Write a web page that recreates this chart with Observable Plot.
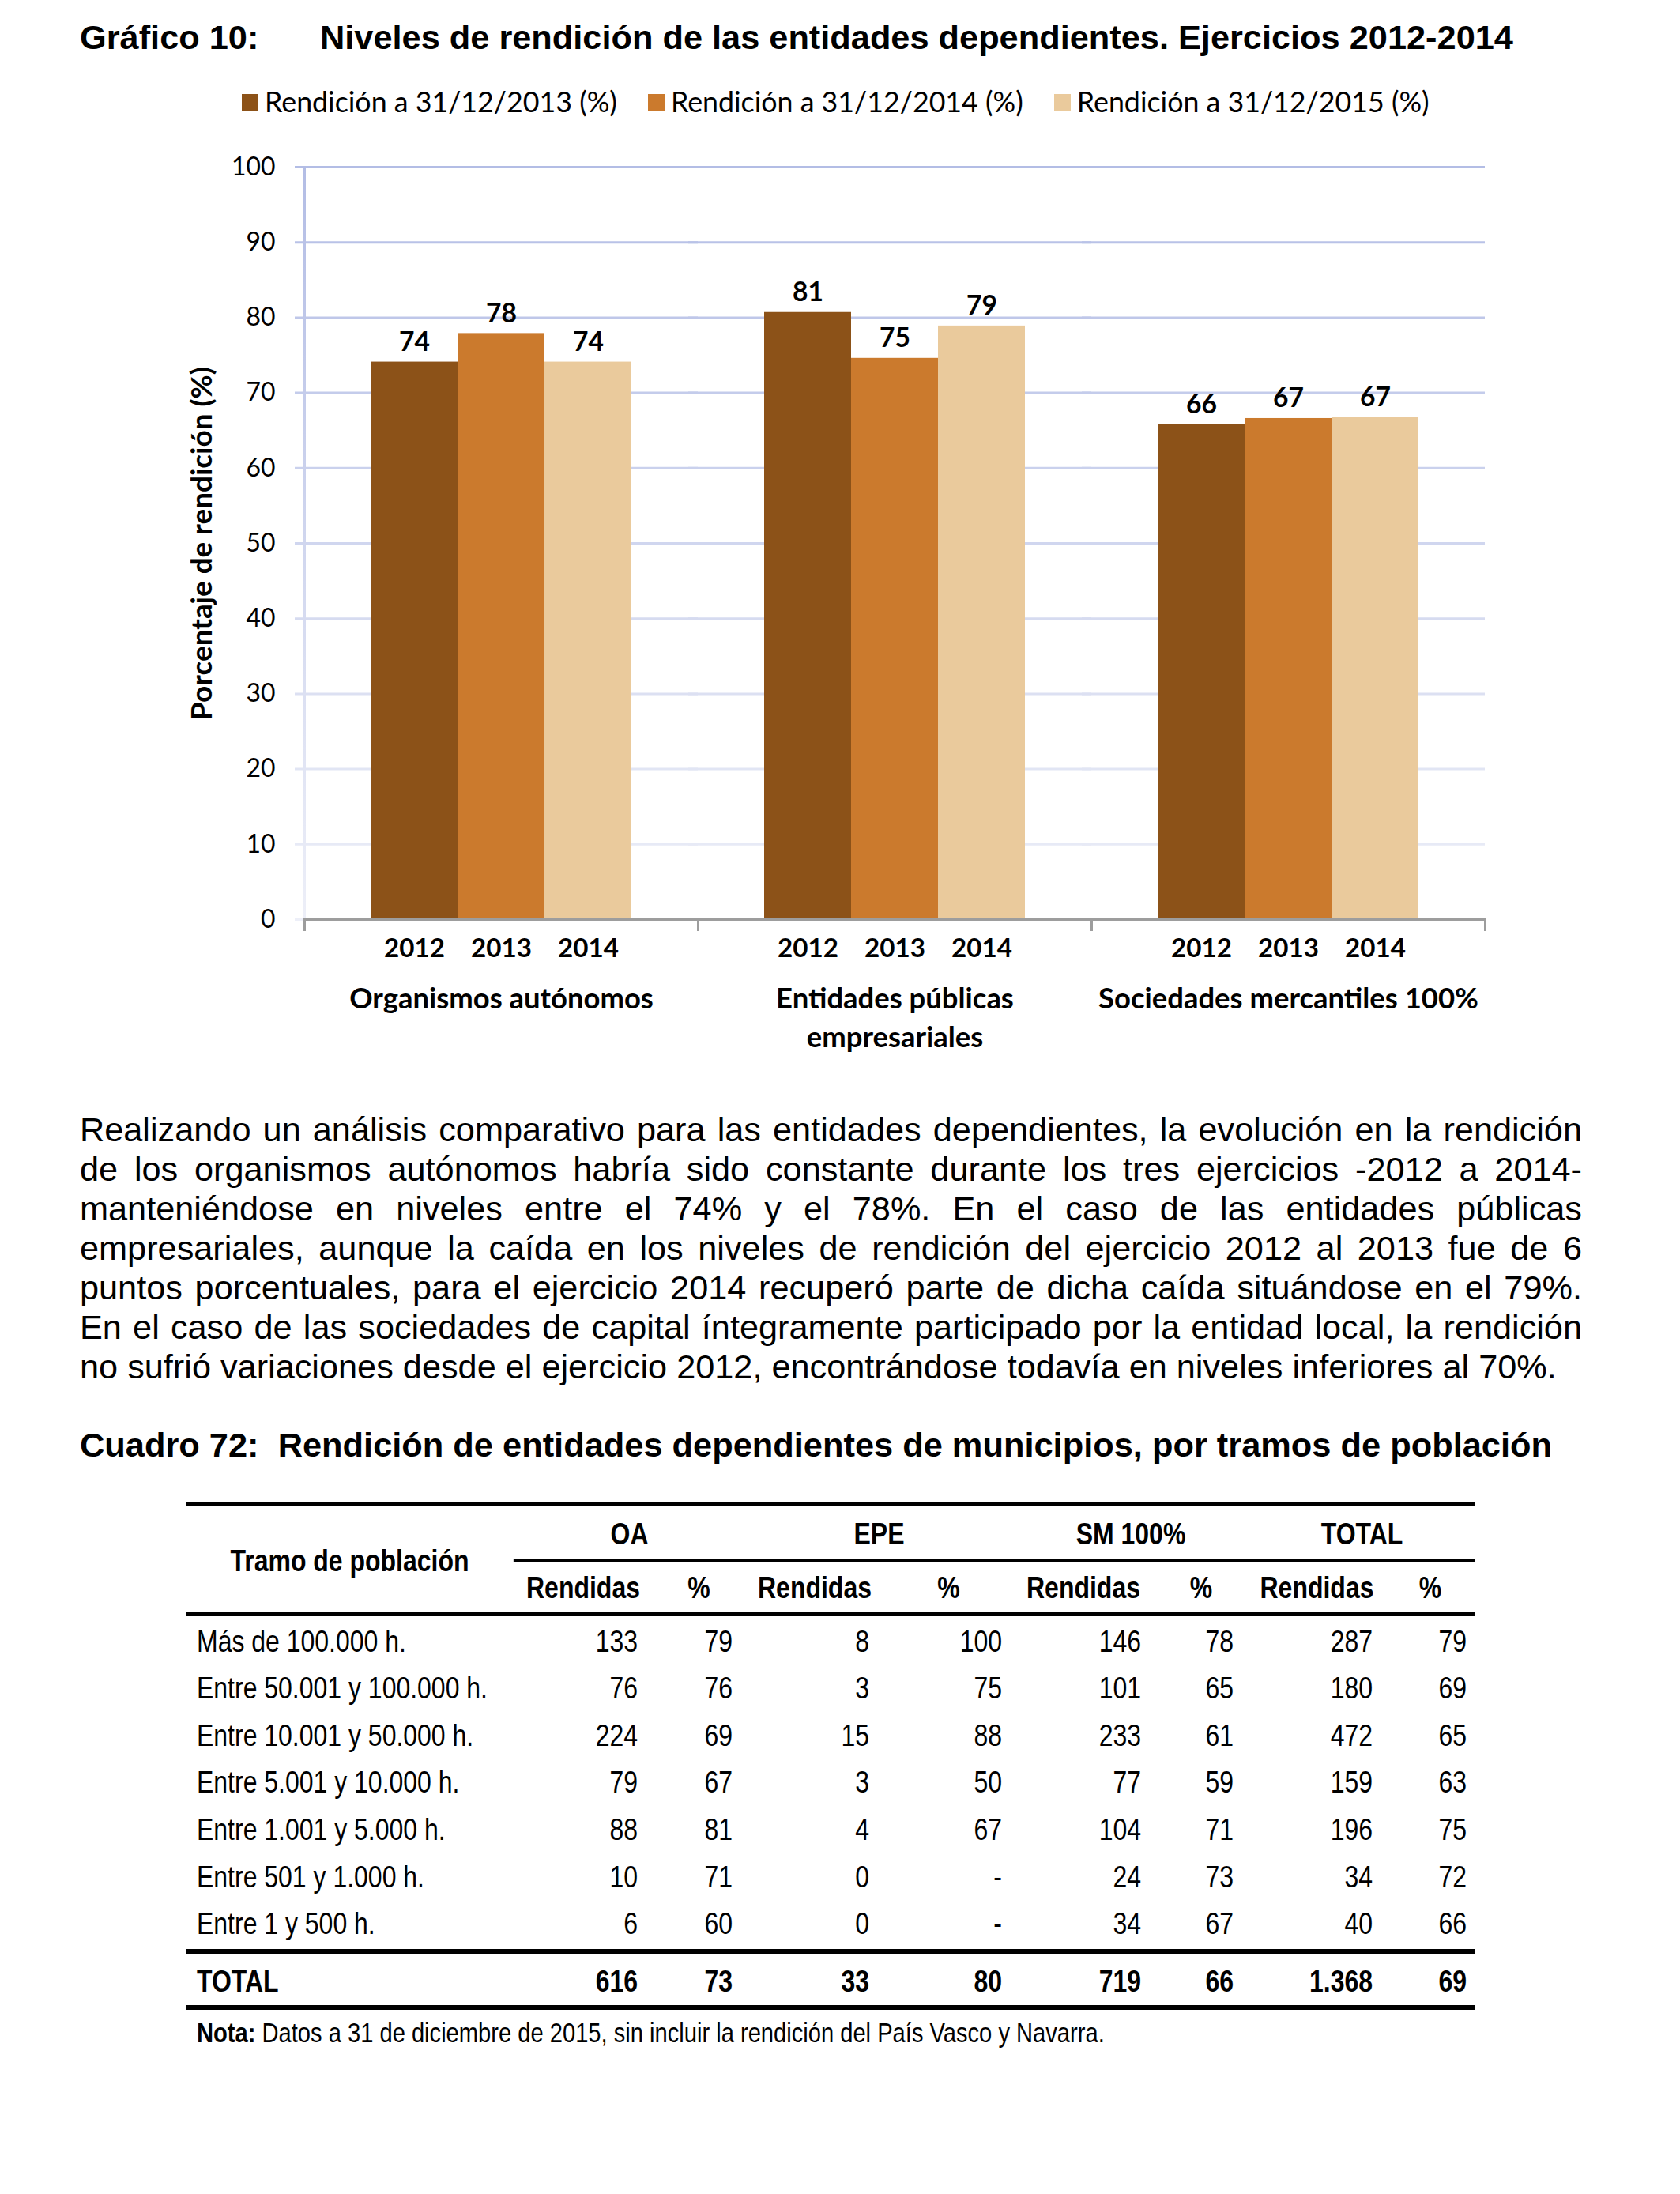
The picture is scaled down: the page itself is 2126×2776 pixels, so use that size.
<!DOCTYPE html>
<html><head><meta charset="utf-8">
<script src="https://cdn.jsdelivr.net/npm/d3@7"></script>
<script src="https://cdn.jsdelivr.net/npm/@observablehq/plot@0.6"></script>
<style>
html,body{margin:0;padding:0;background:#fff;}
body{width:2126px;height:2776px;position:relative;overflow:hidden;color:#000;}
.abs{position:absolute;white-space:pre;}
</style></head><body>
<svg width="0" height="0" style="position:absolute">
<defs><linearGradient id="axisGrad" gradientUnits="userSpaceOnUse" x1="0" y1="51" x2="0" y2="1003">
<stop offset="0" stop-color="#B3BDE5"/><stop offset="1" stop-color="#EDEFF8"/></linearGradient></defs></svg>
<script>
// ---------- DATA ----------
const categories = ["Organismos autónomos", "Entidades públicas\nempresariales", "Sociedades mercantiles 100%"];
const years = ["2012", "2013", "2014"];
const seriesLabels = ["Rendición a 31/12/2013 (%)", "Rendición a 31/12/2014 (%)", "Rendición a 31/12/2015 (%)"];
const oaValues = [74.1, 77.9, 74.1];
const epeValues = [80.7, 74.6, 78.9];
const smValues = [65.8, 66.6, 66.7];
const yTicks = [0, 10, 20, 30, 40, 50, 60, 70, 80, 90, 100];
const barColors = ["#8C5218", "#CB7A2D", "#EACA9C"];

const tramos = ["Más de 100.000 h.", "Entre 50.001 y 100.000 h.", "Entre 10.001 y 50.000 h.", "Entre 5.001 y 10.000 h.", "Entre 1.001 y 5.000 h.", "Entre 501 y 1.000 h.", "Entre 1 y 500 h."];
const oaRendidas = [133, 76, 224, 79, 88, 10, 6];
const oaPct = [79, 76, 69, 67, 81, 71, 60];
const epeRendidas = [8, 3, 15, 3, 4, 0, 0];
const epePct = [100, 75, 88, 50, 67, "-", "-"];
const smRendidas = [146, 101, 233, 77, 104, 24, 34];
const smPct = [78, 65, 61, 59, 71, 73, 67];
const totalRendidas = [287, 180, 472, 159, 196, 34, 40];
const totalPct = [79, 69, 65, 63, 75, 72, 66];
const totalRow = ["TOTAL", 616, 73, 33, 80, 719, 66, "1.368", 69];
const groupHeaders = ["OA", "EPE", "SM 100%", "TOTAL"];
const subHeaders = ["Rendidas", "%"];

const titleLabel = "Gráfico 10:";
const titleText = "Niveles de rendición de las entidades dependientes. Ejercicios 2012-2014";
const yLabel = "Porcentaje de rendición (%)";
const cuadroTitle = "Cuadro 72:  Rendición de entidades dependientes de municipios, por tramos de población";
const tableHeadLabel = "Tramo de población";
const notaBold = "Nota:";
const notaText = " Datos a 31 de diciembre de 2015, sin incluir la rendición del País Vasco y Navarra.";
const paragraphLines = [
  "Realizando un análisis comparativo para las entidades dependientes, la evolución en la rendición",
  "de los organismos autónomos habría sido constante durante los tres ejercicios -2012 a 2014-",
  "manteniéndose en niveles entre el 74% y el 78%. En el caso de las entidades públicas",
  "empresariales, aunque la caída en los niveles de rendición del ejercicio 2012 al 2013 fue de 6",
  "puntos porcentuales, para el ejercicio 2014 recuperó parte de dicha caída situándose en el 79%.",
  "En el caso de las sociedades de capital íntegramente participado por la entidad local, la rendición",
  "no sufrió variaciones desde el ejercicio 2012, encontrándose todavía en niveles inferiores al 70%."
];

// ---------- HELPERS ----------
const FONT = "Lato";
const ARIAL = '"Liberation Sans"';
const ctx = document.createElement("canvas").getContext("2d");
const tw = (t, f) => { ctx.font = f; return ctx.measureText(t).width; };
const fit = (t, w, fam, target) => 100 * target / tw(t, `${w} 100px ${fam}`);
function div(html, css) { const d = document.createElement("div"); d.className = "abs"; d.style.cssText = css; d.innerHTML = html; document.body.appendChild(d); return d; }
const esc = s => s.replace(/&/g, "&amp;").replace(/</g, "&lt;");

// ---------- TITLE ----------
const titleSize = fit(titleText, "bold", ARIAL, 1510);
div(esc(titleLabel), `left:101px;top:${53 - 30}px;height:60px;line-height:60px;font:bold ${titleSize}px ${ARIAL};`);
div(esc(titleText), `left:405px;top:${53 - 30}px;height:60px;line-height:60px;font:bold ${titleSize}px ${ARIAL};`);

// ---------- LEGEND ----------
const legSize = fit(seriesLabels[0], "normal", FONT, 446);
const leg = div("", `left:306px;top:104px;height:50px;display:flex;align-items:center;gap:39px;font:normal ${legSize}px ${FONT};`);
seriesLabels.forEach((l, i) => {
  const it = document.createElement("div");
  it.style.cssText = "display:flex;align-items:center;gap:8px;";
  it.innerHTML = `<span style="display:inline-block;width:21px;height:21px;background:${barColors[i]}"></span><span style="line-height:50px">${esc(l)}</span>`;
  leg.appendChild(it);
});

// ---------- CHART ----------
const rows = [];
const valuesByCat = [oaValues, epeValues, smValues];
categories.forEach((c, i) => years.forEach((y, j) => rows.push({cat: c, year: y, value: valuesByCat[i][j]})));
const gridColor = d3.interpolateRgb("#EDEFF8", "#B3BDE5");
const valSize = fit("74", "bold", FONT, 39);
const yearSize = fit("2012", "bold", FONT, 77);
const tickFont = fit("70", "normal", FONT, 37);
const catSize = fit("Sociedades mercantiles 100%", "bold", FONT, 481);
const ylabSize = fit(yLabel, "bold", FONT, 447);
const grayAxis = "#9D9D9D";

const chart = Plot.plot({
  width: 2126, height: 1180,
  marginLeft: 384, marginRight: 246, marginTop: 51, marginBottom: 177,
  style: {fontFamily: FONT, background: "transparent", overflow: "visible", color: "#000"},
  fx: {domain: categories, padding: 0, axis: null},
  x: {domain: years, paddingInner: 0, paddingOuter: 0.747, axis: null},
  y: {domain: [0, 100], axis: null},
  color: {domain: years, range: barColors},
  marks: [
    Plot.ruleY(yTicks, {y: d => d, stroke: d => gridColor(d / 100), strokeWidth: 3, insetLeft: -12}),
    Plot.frame({anchor: "left", facet: "super", stroke: "url(#axisGrad)", strokeWidth: 3}),
    Plot.barY(rows, {fx: "cat", x: "year", y: "value", fill: "year", inset: 0}),
    Plot.ruleY([0], {stroke: grayAxis, strokeWidth: 3}),
    Plot.frame({anchor: "left", stroke: grayAxis, strokeWidth: 3, insetTop: 952, insetBottom: -13}),
    Plot.frame({anchor: "right", facet: "super", stroke: grayAxis, strokeWidth: 3, insetTop: 952, insetBottom: -13}),
    Plot.axisY({ticks: yTicks, tickSize: 0, tickPadding: 37, label: null, fontSize: tickFont}),
    Plot.text([yLabel], {frameAnchor: "left", facet: "super", rotate: -90, dx: -129, textAnchor: "middle", lineAnchor: "middle", fontWeight: "bold", fontSize: ylabSize, fill: "#000"}),
    Plot.text(rows, {fx: "cat", x: "year", y: "value", text: d => d3.format(".0f")(d.value), dy: -25, lineAnchor: "middle", fontWeight: "bold", fontSize: valSize, fill: "#000"}),
    Plot.text(rows, {fx: "cat", x: "year", text: "year", frameAnchor: "bottom", dy: 37, lineAnchor: "middle", fontWeight: "bold", fontSize: yearSize, fill: "#000"}),
    Plot.text(categories, {fx: d => d, text: d => d, frameAnchor: "bottom", lineAnchor: "top", dy: 78, fontWeight: "bold", fontSize: catSize, lineHeight: 49 / catSize, fill: "#000"})
  ]
});
chart.style.position = "absolute";
chart.style.left = "0px";
chart.style.top = "160px";
document.body.appendChild(chart);

// ---------- PARAGRAPH ----------
const paraSize = fit(paragraphLines[6], "normal", ARIAL, 1869);
paragraphLines.forEach((l, i) => {
  const last = i === paragraphLines.length - 1;
  div(esc(l), `left:101px;width:1901px;top:${1405 + i * 50}px;height:50px;line-height:50px;white-space:normal;text-align:${last ? "left" : "justify"};text-align-last:${last ? "left" : "justify"};font:normal ${paraSize}px ${ARIAL};`);
});

// ---------- CUADRO TITLE ----------
const cuadroSize = fit(cuadroTitle, "bold", ARIAL, 1864);
div(esc(cuadroTitle), `left:101px;top:${1834 - 30}px;height:60px;line-height:60px;font:bold ${cuadroSize}px ${ARIAL};`);

// ---------- TABLE ----------
function hasFont(f) { const a = tw("Rendidas 0123 h.", `40px "${f}", monospace`); const b = tw("Rendidas 0123 h.", `40px monospace`); return Math.abs(a - b) > 0.5; }
const TFONT = hasFont("Liberation Sans Narrow") ? '"Liberation Sans Narrow"' : ARIAL;
const TSIZE = 38;
const s = 368 / tw("Entre 50.001 y 100.000 h.", `${TSIZE}px ${TFONT}`);
const T0 = 235, T1 = 1867;
const T = document.createElement("div");
T.style.cssText = `position:absolute;left:${T0}px;top:0;width:${(T1 - T0) / s}px;height:2776px;transform:scaleX(${s});transform-origin:0 0;font-family:${TFONT};font-size:${TSIZE}px;`;
document.body.appendChild(T);
const X = x => (x - T0) / s;
const colEdges = [235, 650, 826, 943, 1119, 1282, 1460, 1580, 1753, 1867];
const numRight = [807, 927, 1100, 1268, 1444, 1561, 1737, 1856];
function cell(text, y, opt) {
  const d = document.createElement("div");
  const H = 56;
  let pos;
  if (opt.left != null) pos = `left:${X(opt.left)}px;`;
  else if (opt.right != null) pos = `right:${(T1 - T0) / s - X(opt.right)}px;`;
  else pos = `left:${X(opt.center)}px;transform:translateX(-50%);`;
  d.style.cssText = `position:absolute;white-space:pre;${pos}top:${y - H / 2}px;height:${H}px;line-height:${H}px;font-weight:${opt.bold ? "bold" : "normal"};${opt.size ? `font-size:${opt.size}px;` : ""}`;
  d.innerHTML = opt.html ? text : esc(String(text));
  T.appendChild(d);
}
function hline(y, h, x0 = T0, x1 = T1) {
  const d = document.createElement("div");
  d.style.cssText = `position:absolute;left:${X(x0)}px;width:${(x1 - x0) / s}px;top:${y - h / 2}px;height:${h}px;background:#000;`;
  T.appendChild(d);
}
hline(1903, 6);
hline(1974, 3, 650, T1);
hline(2042, 6);
hline(2469, 6);
hline(2540, 6);
cell(tableHeadLabel, 1975, {center: (colEdges[0] + colEdges[1]) / 2, bold: true});
groupHeaders.forEach((g, i) => cell(g, 1941, {center: (colEdges[1 + 2 * i] + colEdges[3 + 2 * i]) / 2, bold: true}));
for (let c = 0; c < 8; c++) cell(subHeaders[c % 2], 2009, {center: (colEdges[1 + c] + colEdges[2 + c]) / 2, bold: true});
const cols = [oaRendidas, oaPct, epeRendidas, epePct, smRendidas, smPct, totalRendidas, totalPct];
tramos.forEach((t, i) => {
  const y = 2076.5 + i * 59.6;
  cell(t, y, {left: 249});
  cols.forEach((col, c) => cell(col[i], y, {right: numRight[c]}));
});
cell(totalRow[0], 2507, {left: 249, bold: true});
totalRow.slice(1).forEach((v, c) => cell(v, 2507, {right: numRight[c], bold: true}));
const notaW = tw(notaBold, `bold 100px ${TFONT}`) + tw(notaText, `normal 100px ${TFONT}`);
const notaSize = 100 * (1149 / s) / notaW;
cell(`<b>${esc(notaBold)}</b>${esc(notaText)}`, 2572, {left: 249, html: true, size: notaSize});
</script>
</body></html>
